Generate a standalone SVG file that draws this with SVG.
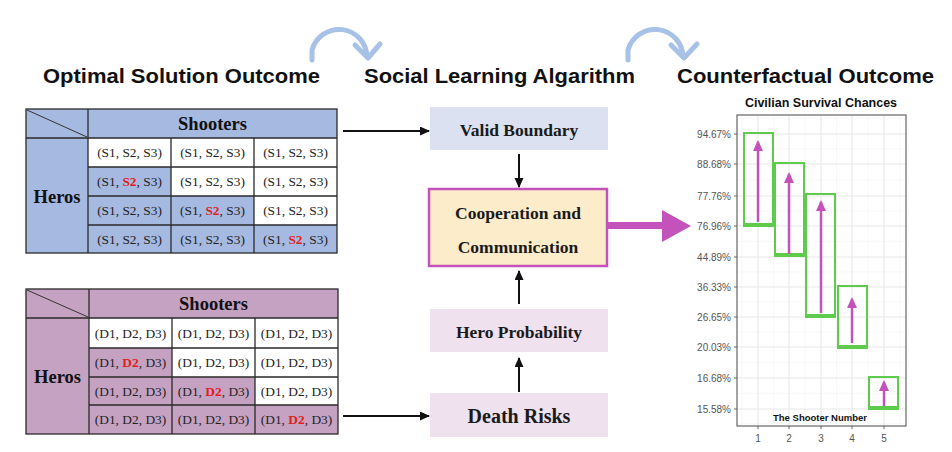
<svg xmlns="http://www.w3.org/2000/svg" width="952" height="452" viewBox="0 0 952 452">
<style>
.h{font-family:"Liberation Sans",Arial,sans-serif;font-weight:bold;font-size:21px;fill:#111}
.cell{font-family:"Liberation Serif","Times New Roman",serif;font-size:13.4px;fill:#222;text-anchor:middle}
.red{fill:#e0201c;font-weight:bold}
.big{font-family:"Liberation Serif","Times New Roman",serif;font-weight:bold;font-size:18.5px;fill:#111;text-anchor:middle}
.box{font-family:"Liberation Serif","Times New Roman",serif;font-weight:bold;font-size:17.5px;fill:#1a1a1a;text-anchor:middle}
.tb{stroke:#2a2a2a;stroke-width:1.3;fill:none}
.ylab{font-family:"Liberation Sans",Arial,sans-serif;font-size:10px;fill:#555;text-anchor:end}
.xlab{font-family:"Liberation Sans",Arial,sans-serif;font-size:10px;fill:#555;text-anchor:middle}
.gmaj{stroke:#e8e8e8;stroke-width:1.1}
.gmin{stroke:#f4f4f4;stroke-width:0.6}
.gbox{fill:none;stroke:#5fcb4c;stroke-width:2}
.gbot{stroke:#5fcb4c;stroke-width:4}
.marr{stroke:#c452bb;stroke-width:2.5;marker-end:url(#mh)}
.conn{stroke:#111;stroke-width:2;fill:none;marker-end:url(#ah)}
.curl{fill:none;stroke:#a8c1e6;stroke-width:5;stroke-linecap:round;stroke-linejoin:round}
</style>
<defs>
<marker id="ah" markerWidth="12" markerHeight="12" refX="9" refY="4.5" orient="auto" markerUnits="userSpaceOnUse">
<path d="M0,0 L10,4.5 L0,9 Z" fill="#111"/>
</marker>
<marker id="mh" markerWidth="14" markerHeight="14" refX="9" refY="5" orient="auto" markerUnits="userSpaceOnUse">
<path d="M0,0 L11,5 L0,10 Z" fill="#c452bb"/>
</marker>
</defs>
<rect width="952" height="452" fill="#fff"/>

<g id="headings">
<text class="h" x="43" y="83" textLength="277" lengthAdjust="spacingAndGlyphs">Optimal Solution Outcome</text>
<text class="h" x="364" y="83" textLength="271" lengthAdjust="spacingAndGlyphs">Social Learning Algarithm</text>
<text class="h" x="677" y="83" textLength="257" lengthAdjust="spacingAndGlyphs">Counterfactual Outcome</text>
</g>
<g id="curls">
<path class="curl" d="M312,60 L312,50 A28,28 0 0 1 367,57"/>
<path class="curl" d="M355,45 L368,58 L380,44"/>
<path class="curl" d="M628,60 L628,50 A28,28 0 0 1 683,57"/>
<path class="curl" d="M671,45 L684,58 L697,44"/>
</g>

<g id="table-shooters">
<rect x="26" y="109" width="311" height="144" fill="#a6b9e1"/>
<rect x="88" y="138" width="249" height="29" fill="#fff"/>
<rect x="171" y="167" width="166" height="29" fill="#fff"/>
<rect x="254" y="196" width="83" height="29" fill="#fff"/>
<rect class="tb" x="26" y="109" width="311" height="144"/>
<path class="tb" d="M26,138 H337 M88,167 H337 M88,196 H337 M88,225 H337 M88,109 V253 M171,138 V253 M254,138 V253"/>
<path d="M27,110 L87,137" stroke="#333" stroke-width="1"/>
<text class="big" x="212.5" y="130">Shooters</text>
<text class="big" x="57" y="203">Heros</text>
<text class="cell" x="129.5" y="157">(S1, S2, S3)</text>
<text class="cell" x="212.5" y="157">(S1, S2, S3)</text>
<text class="cell" x="295.5" y="157">(S1, S2, S3)</text>
<text class="cell" x="129.5" y="186">(S1, <tspan class="red">S2</tspan>, S3)</text>
<text class="cell" x="212.5" y="186">(S1, S2, S3)</text>
<text class="cell" x="295.5" y="186">(S1, S2, S3)</text>
<text class="cell" x="129.5" y="215">(S1, S2, S3)</text>
<text class="cell" x="212.5" y="215">(S1, <tspan class="red">S2</tspan>, S3)</text>
<text class="cell" x="295.5" y="215">(S1, S2, S3)</text>
<text class="cell" x="129.5" y="243.5">(S1, S2, S3)</text>
<text class="cell" x="212.5" y="243.5">(S1, S2, S3)</text>
<text class="cell" x="295.5" y="243.5">(S1, <tspan class="red">S2</tspan>, S3)</text>
</g>

<g id="table-deaths">
<rect x="26" y="289" width="312" height="145" fill="#c6a2c2"/>
<rect x="89" y="318" width="249" height="30" fill="#fff"/>
<rect x="172" y="348" width="166" height="29" fill="#fff"/>
<rect x="255" y="377" width="83" height="28" fill="#fff"/>
<rect class="tb" x="26" y="289" width="312" height="145"/>
<path class="tb" d="M26,318 H338 M89,348 H338 M89,377 H338 M89,405 H338 M89,289 V434 M172,318 V434 M255,318 V434"/>
<path d="M27,290 L88,317" stroke="#333" stroke-width="1"/>
<text class="big" x="213.5" y="310">Shooters</text>
<text class="big" x="57.5" y="383">Heros</text>
<text class="cell" x="130.5" y="337.5">(D1, D2, D3)</text>
<text class="cell" x="213.5" y="337.5">(D1, D2, D3)</text>
<text class="cell" x="296.5" y="337.5">(D1, D2, D3)</text>
<text class="cell" x="130.5" y="367">(D1, <tspan class="red">D2</tspan>, D3)</text>
<text class="cell" x="213.5" y="367">(D1, D2, D3)</text>
<text class="cell" x="296.5" y="367">(D1, D2, D3)</text>
<text class="cell" x="130.5" y="395.5">(D1, D2, D3)</text>
<text class="cell" x="213.5" y="395.5">(D1, <tspan class="red">D2</tspan>, D3)</text>
<text class="cell" x="296.5" y="395.5">(D1, D2, D3)</text>
<text class="cell" x="130.5" y="424">(D1, D2, D3)</text>
<text class="cell" x="213.5" y="424">(D1, D2, D3)</text>
<text class="cell" x="296.5" y="424">(D1, <tspan class="red">D2</tspan>, D3)</text>
</g>

<g id="node-valid">
<rect x="430" y="107" width="178" height="43" fill="#dbe1f1"/>
<text class="box" x="519" y="136">Valid Boundary</text>
</g>
<g id="node-coop">
<rect x="429" y="189" width="178" height="77" fill="#fdecca" stroke="#c452bb" stroke-width="2.5"/>
<text class="box" x="518" y="219">Cooperation and</text>
<text class="box" x="518" y="253">Communication</text>
</g>
<g id="node-hero">
<rect x="430" y="309" width="178" height="43" fill="#efe1ee"/>
<text class="box" x="519" y="338">Hero Probability</text>
</g>
<g id="node-death">
<rect x="430" y="393" width="178" height="44" fill="#efe1ee"/>
<text class="box" x="519" y="423" style="font-size:20px">Death Risks</text>
</g>

<g id="connectors">
<line class="conn" x1="343" y1="131" x2="429" y2="131"/>
<line class="conn" x1="343" y1="416" x2="429" y2="416"/>
<line class="conn" x1="519" y1="154" x2="519" y2="187"/>
<line class="conn" x1="519" y1="304" x2="519" y2="271"/>
<line class="conn" x1="519" y1="392" x2="519" y2="358"/>
<path d="M608,222 H662 V210 L691,226 L662,242 V229 H608 Z" fill="#c452bb"/>
</g>

<g id="chart">
<text x="821" y="107" text-anchor="middle" style="font-family:'Liberation Sans',Arial,sans-serif;font-weight:bold;font-size:12.5px;fill:#111">Civilian Survival Chances</text>
<rect x="737" y="115" width="169" height="311" fill="#fff"/>
<g>
<line class="gmin" x1="737" y1="118.7" x2="906" y2="118.7"/>
<line class="gmin" x1="737" y1="149" x2="906" y2="149"/>
<line class="gmin" x1="737" y1="180" x2="906" y2="180"/>
<line class="gmin" x1="737" y1="211" x2="906" y2="211"/>
<line class="gmin" x1="737" y1="241.5" x2="906" y2="241.5"/>
<line class="gmin" x1="737" y1="272" x2="906" y2="272"/>
<line class="gmin" x1="737" y1="302" x2="906" y2="302"/>
<line class="gmin" x1="737" y1="332" x2="906" y2="332"/>
<line class="gmin" x1="737" y1="362.5" x2="906" y2="362.5"/>
<line class="gmin" x1="737" y1="393.5" x2="906" y2="393.5"/>
<line class="gmin" x1="737" y1="424" x2="906" y2="424"/>
<line class="gmin" x1="742" y1="115" x2="742" y2="426"/>
<line class="gmin" x1="773.5" y1="115" x2="773.5" y2="426"/>
<line class="gmin" x1="805" y1="115" x2="805" y2="426"/>
<line class="gmin" x1="836.5" y1="115" x2="836.5" y2="426"/>
<line class="gmin" x1="868" y1="115" x2="868" y2="426"/>
<line class="gmin" x1="900" y1="115" x2="900" y2="426"/>
<line class="gmaj" x1="737" y1="134" x2="906" y2="134"/>
<line class="gmaj" x1="737" y1="164" x2="906" y2="164"/>
<line class="gmaj" x1="737" y1="196" x2="906" y2="196"/>
<line class="gmaj" x1="737" y1="226" x2="906" y2="226"/>
<line class="gmaj" x1="737" y1="257" x2="906" y2="257"/>
<line class="gmaj" x1="737" y1="287" x2="906" y2="287"/>
<line class="gmaj" x1="737" y1="317" x2="906" y2="317"/>
<line class="gmaj" x1="737" y1="347" x2="906" y2="347"/>
<line class="gmaj" x1="737" y1="378" x2="906" y2="378"/>
<line class="gmaj" x1="737" y1="409" x2="906" y2="409"/>
<line class="gmaj" x1="758" y1="115" x2="758" y2="426"/>
<line class="gmaj" x1="789" y1="115" x2="789" y2="426"/>
<line class="gmaj" x1="821" y1="115" x2="821" y2="426"/>
<line class="gmaj" x1="852" y1="115" x2="852" y2="426"/>
<line class="gmaj" x1="884" y1="115" x2="884" y2="426"/>
</g>
<rect x="737" y="115" width="169" height="311" fill="none" stroke="#666" stroke-width="1.2"/>
<path d="M734,134 H737 M734,164 H737 M734,196 H737 M734,226 H737 M734,257 H737 M734,287 H737 M734,317 H737 M734,347 H737 M734,378 H737 M734,409 H737 M758,426 V429 M789,426 V429 M821,426 V429 M852,426 V429 M884,426 V429" stroke="#666" stroke-width="1"/>
<text class="ylab" x="731" y="137.5">94.67%</text>
<text class="ylab" x="731" y="167.5">88.68%</text>
<text class="ylab" x="731" y="199.5">77.76%</text>
<text class="ylab" x="731" y="229.5">76.96%</text>
<text class="ylab" x="731" y="260.5">44.89%</text>
<text class="ylab" x="731" y="290.5">36.33%</text>
<text class="ylab" x="731" y="320.5">26.65%</text>
<text class="ylab" x="731" y="350.5">20.03%</text>
<text class="ylab" x="731" y="381.5">16.68%</text>
<text class="ylab" x="731" y="412.5">15.58%</text>
<text class="xlab" x="758" y="442">1</text>
<text class="xlab" x="789" y="442">2</text>
<text class="xlab" x="821" y="442">3</text>
<text class="xlab" x="852" y="442">4</text>
<text class="xlab" x="884" y="442">5</text>
<text x="820" y="421" text-anchor="middle" style="font-family:'Liberation Sans',Arial,sans-serif;font-weight:bold;font-size:9.5px;fill:#111">The Shooter Number</text>
<rect class="gbox" x="744" y="133" width="29" height="93"/>
<line class="gbot" x1="743" y1="225" x2="774" y2="225"/>
<rect class="gbox" x="775" y="163" width="29" height="93"/>
<line class="gbot" x1="774" y1="255" x2="805" y2="255"/>
<rect class="gbox" x="806" y="194" width="29" height="123"/>
<line class="gbot" x1="805" y1="316" x2="836" y2="316"/>
<rect class="gbox" x="838" y="286" width="29" height="62"/>
<line class="gbot" x1="837" y1="347" x2="868" y2="347"/>
<rect class="gbox" x="869" y="377" width="29" height="32"/>
<line class="gbot" x1="868" y1="408" x2="899" y2="408"/>
<line class="marr" x1="758" y1="222" x2="758" y2="142"/>
<line class="marr" x1="789" y1="254" x2="789" y2="174"/>
<line class="marr" x1="821" y1="313" x2="821" y2="202"/>
<line class="marr" x1="852" y1="343" x2="852" y2="299"/>
<line class="marr" x1="884" y1="406" x2="884" y2="382"/>
</g>
</svg>
